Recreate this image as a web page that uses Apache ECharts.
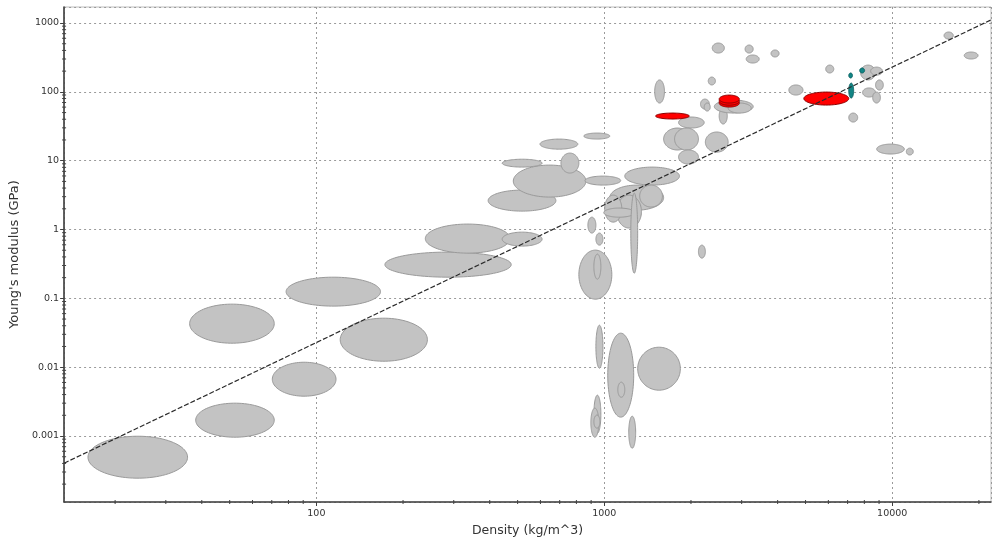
<!DOCTYPE html>
<html><head><meta charset="utf-8">
<script src="https://cdn.jsdelivr.net/npm/echarts@6/dist/echarts.min.js"></script>
<style>html,body{margin:0;padding:0;background:#fff}#c{width:992px;height:542px}</style>
</head><body><div id="c"></div>
<script>
// Gray material envelopes: density range (kg/m^3) and Young's modulus range (GPa)
const grayDensityLow  = [16.1,38.1,36.3,70.3,78.5,121,173,239,442,395,483,442,707,598,849,857,1178,1045,1104,1327,1003,996,1236,877,935,816,920,935,1028,1114,1306,920,898,920,1216,2123,1496,1811,1607,1754,1811,2244,2506,2410,2692,2158,2223,2296,2371,3083,3111,3793,4375,5875,7762,8414,8750,7889,8551,7063,8831,11194,15136,17783];
const grayDensityHigh = [35.7,71.4,71.4,117,167,243,475,471,608,679,863,608,816,809,1045,1140,1824,1607,1346,1592,1150,1275,1306,935,989,1062,973,989,1265,1178,1837,973,957,966,1285,2244,1618,2223,2004,2123,2123,2692,2673,3289,3236,2317,2333,2432,2612,3289,3451,4046,4898,6266,8750,9247,9311,8750,9099,7586,11015,11830,16293,19861];
const grayModulusLow  = [0.000244,0.000961,0.0223,0.00379,0.0771,0.0122,0.203,0.454,0.574,1.85,2.96,8.07,6.61,14.7,20.6,4.42,4.42,1.91,1.05,2.12,1.28,1.51,0.232,0.887,0.593,0.0973,0.190,0.00966,0.00188,0.00366,0.00463,0.00110,0.000961,0.0013,0.000665,0.384,68.8,29.8,14.3,14.3,8.93,13.3,34.1,49.2,49.2,56.2,52.6,126,366,366,262,321,89.8,188,149,175,106,84.0,68.8,36.4,12.5,12.1,585,300];
const grayModulusHigh = [0.000993,0.0030,0.0824,0.0118,0.203,0.0515,0.47,1.20,0.916,3.74,8.63,10.5,12.9,20.6,25.2,5.97,8.07,4.42,3.16,4.42,3.16,2.05,3.38,1.51,0.887,0.502,0.439,0.0407,0.0312,0.00605,0.0195,0.00392,0.00254,0.00201,0.00194,0.593,149,43.1,29.8,29.8,14.3,26.1,58.2,76.0,68.8,78.5,68.8,164,512,479,343,406,126,245,245,229,149,114,99.3,49.2,17.4,15.2,740,379];

// Highlighted (red) materials
const redDensityLow  = [1507,2506,2506,2506,4932];
const redDensityHigh = [1973,2944,2944,2944,7063];
const redModulusLow  = [40.3,60.1,64.0,68.8,64.3];
const redModulusHigh = [49.2,78.5,84.0,89.8,99.3];

// Teal materials
const tealDensityLow  = [7063,7063,7709];
const tealDensityHigh = [7278,7345,8017];
const tealModulusLow  = [159,81.3,188];
const tealModulusHigh = [188,134,222];

// Guide line E ∝ ρ^2
const trendDensity = [13.3, 22030];
const trendModulus = [0.000403, 1110];

// Axis extents and labels
const xRange = [13.3, 22030];
const yRange = [0.00011, 1709];
const xTickLabels = ['100','1000','10000'];
const yTickLabels = ['0.001','0.01','0.1','1','10','100','1000'];

function zip4(a,b,c,d){ return a.map((v,i)=>[v,b[i],c[i],d[i]]); }

function ellipseRenderer(fill, stroke){
  return function(params, api){
    const a = api.coord([api.value(0), api.value(3)]);
    const b = api.coord([api.value(1), api.value(2)]);
    const cx=(a[0]+b[0])/2, cy=(a[1]+b[1])/2;
    const rx=Math.abs(b[0]-a[0])/2, ry=Math.abs(b[1]-a[1])/2;
    const pts=[];
    for(let i=0;i<90;i++){ const t=i/90*2*Math.PI; pts.push([cx+rx*Math.cos(t), cy+ry*Math.sin(t)]); }
    return {type:'polygon', shape:{points:pts}, style:{fill:fill, stroke:stroke, lineWidth:1}};
  };
}

// minor tick positions (2..9 x 10^k) inside the axis ranges
const xMinor=[], yMinor=[];
for(let k=-4;k<=4;k++){ for(let m=2;m<=9;m++){ const v=m*Math.pow(10,k);
  if(v>xRange[0]&&v<xRange[1]) xMinor.push([v]);
  if(v>yRange[0]&&v<yRange[1]) yMinor.push([v]); } }

const labelFont = {fontFamily:'DejaVu Sans', fontSize:9.5, color:'#333'};
function fmt(list){ return function(v){ const s=String(parseFloat(Number(v).toPrecision(6))); return list.indexOf(s)>=0 ? s : ''; }; }

const chart = echarts.init(document.getElementById('c'), null, {renderer:'canvas'});
chart.setOption({
  animation:false,
  backgroundColor:'#fff',
  grid:{left:60, top:7, right:1, bottom:40, show:true, borderColor:'#bdbdbd', borderWidth:1, backgroundColor:'transparent'},
  xAxis:{type:'log', logBase:10, min:xRange[0], max:xRange[1],
    name:'Density (kg/m^3)', nameLocation:'middle', nameGap:19,
    nameTextStyle:{fontFamily:'DejaVu Sans', fontSize:12.5, color:'#333'},
    axisLine:{show:true, lineStyle:{color:'#404040', width:1.6}},
    axisTick:{show:true, length:4, lineStyle:{color:'#404040'}},
    axisLabel:Object.assign({formatter:fmt(xTickLabels), margin:7, showMinLabel:false, showMaxLabel:false}, labelFont),
    splitLine:{show:true, lineStyle:{color:'#9a9a9a', type:[2,3], width:1}},
    minorTick:{show:false}, minorSplitLine:{show:false}},
  yAxis:{type:'log', logBase:10, min:yRange[0], max:yRange[1],
    name:"Young's modulus (GPa)", nameLocation:'middle', nameGap:36,
    nameTextStyle:{fontFamily:'DejaVu Sans', fontSize:13, color:'#333'},
    axisLine:{show:true, lineStyle:{color:'#404040', width:1.6}},
    axisTick:{show:true, length:4, lineStyle:{color:'#404040'}},
    axisLabel:Object.assign({formatter:fmt(yTickLabels), margin:5, showMinLabel:false, showMaxLabel:false}, labelFont),
    splitLine:{show:true, lineStyle:{color:'#9a9a9a', type:[2,3], width:1}},
    minorTick:{show:false}, minorSplitLine:{show:false}},
  series:[
    {type:'custom', name:'gray', clip:true, z:2, encode:{x:[0,1], y:[2,3]},
     data:zip4(grayDensityLow,grayDensityHigh,grayModulusLow,grayModulusHigh),
     renderItem:ellipseRenderer('#c3c3c3','#9a9a9a')},
    {type:'custom', name:'red', clip:true, z:3, encode:{x:[0,1], y:[2,3]},
     data:zip4(redDensityLow,redDensityHigh,redModulusLow,redModulusHigh),
     renderItem:ellipseRenderer('#ff0000','#8a0000')},
    {type:'custom', name:'teal', clip:true, z:3, encode:{x:[0,1], y:[2,3]},
     data:zip4(tealDensityLow,tealDensityHigh,tealModulusLow,tealModulusHigh),
     renderItem:ellipseRenderer('#138585','#0d6464')},
    {type:'line', name:'trend', z:4, symbol:'none', silent:true,
     data:trendDensity.map((v,i)=>[v,trendModulus[i]]),
     lineStyle:{color:'#2b2b2b', width:1.2, type:[5,2]}},
    {type:'custom', name:'xminor', clip:false, z:5, silent:true, data:xMinor,
     renderItem:function(p,api){ const c=api.coord([api.value(0), yRange[0]]);
       return {type:'line', shape:{x1:c[0],y1:c[1]-2,x2:c[0],y2:c[1]+2}, style:{stroke:'#404040', lineWidth:1}}; }},
    {type:'custom', name:'yminor', clip:false, z:5, silent:true, data:yMinor,
     renderItem:function(p,api){ const c=api.coord([xRange[0], api.value(0)]);
       return {type:'line', shape:{x1:c[0]-2,y1:c[1],x2:c[0]+2,y2:c[1]}, style:{stroke:'#404040', lineWidth:1}}; }}
  ]
});
</script></body></html>
